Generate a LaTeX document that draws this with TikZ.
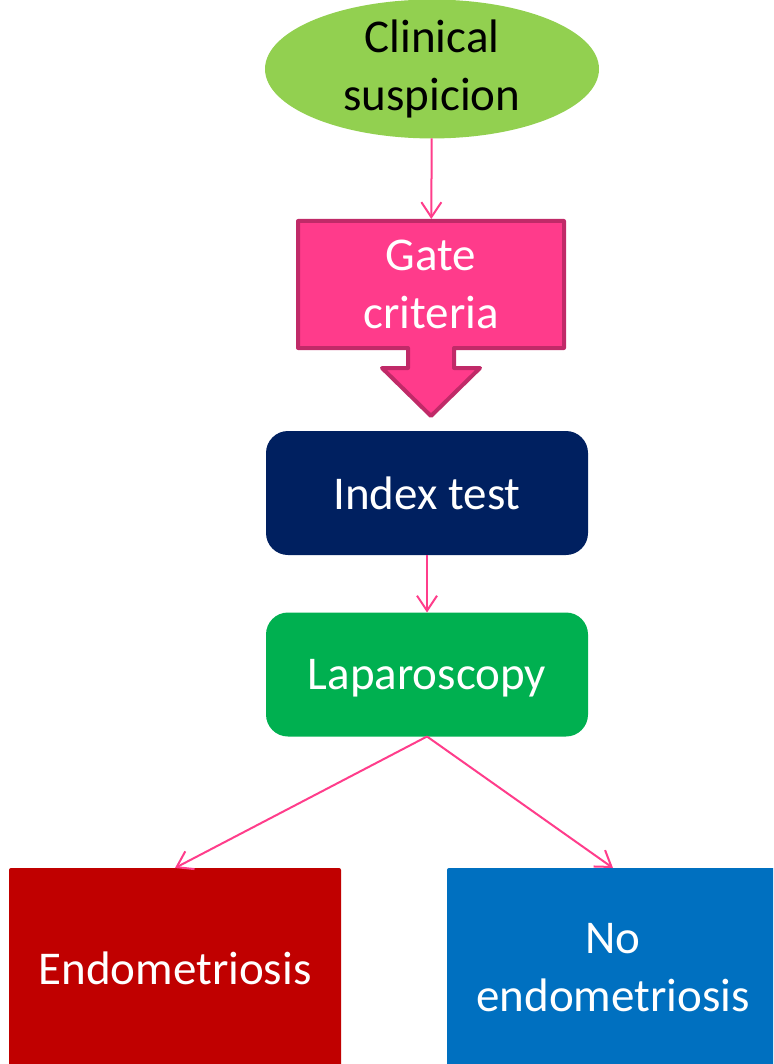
\documentclass[tikz,border=0pt]{standalone}
\usepackage{fontspec}
\setmainfont{Carlito}
\usetikzlibrary{positioning,arrows.meta,shapes.geometric}
\definecolor{suspgreen}{HTML}{92D050}
\definecolor{gatepink}{HTML}{FF3B8B}
\definecolor{gateedge}{HTML}{C02A68}
\definecolor{linkpink}{HTML}{FF3D8B}
\definecolor{idxnavy}{HTML}{002060}
\definecolor{lapgreen}{HTML}{00B050}
\definecolor{endored}{HTML}{C00000}
\definecolor{noblue}{HTML}{0070C0}
\tikzset{
  big/.style={font=\fontsize{47}{58}\selectfont,align=center,inner sep=0pt,outer sep=0pt},
  link/.style={line width=2pt,linkpink,-{Straight Barb[length=15pt,width=20pt,line width=2pt]}},
  stepbox/.style={big,rounded corners=22pt,text=white,minimum width=322pt,minimum height=124pt},
  outbox/.style={big,text=white,minimum width=332pt,minimum height=200pt,rounded corners=2pt},
  every picture/.style={x=1pt,y=1pt}
}
\begin{document}
\begin{tikzpicture}
  \useasboundingbox (0,0) rectangle (773,-1064);
  \clip (0,0) rectangle (773,-1064);
  % top
  \node[big,ellipse,fill=suspgreen,minimum width=334pt,minimum height=125pt] (clin) at (432,-69) {Clinical\\suspicion};
  % gate box with its down arrow
  \draw[line width=4pt,gateedge,fill=gatepink,line join=round]
    (298,-221) -- (564,-221) -- (564,-348) -- (454,-348) -- (454,-368) -- (480,-368)
    -- (431,-416) -- (382,-368) -- (408,-368) -- (408,-348) -- (298,-348) -- cycle;
  \node[big,text=white,minimum width=269pt,minimum height=131pt] (gate) at (431,-284.5) {Gate\\criteria};
  % steps
  \node[stepbox,fill=idxnavy] (idx) at (427,-493) {Index test};
  \node[stepbox,fill=lapgreen,text depth=0pt] (lap) at (427,-674.5) {Laparoscopy};
  % outcomes
  \node[outbox,fill=endored] (endo) at (175,-968) {Endometriosis};
  \node[outbox,fill=noblue] (noendo) at (613,-968) {No\\endometriosis};
  % links
  \draw[link] (clin) -- (gate);
  \draw[link] (idx) -- (lap);
  \draw[link] (lap.south) -- (endo.north);
  \draw[link] (lap.south) -- (noendo.north);
\end{tikzpicture}
\end{document}
